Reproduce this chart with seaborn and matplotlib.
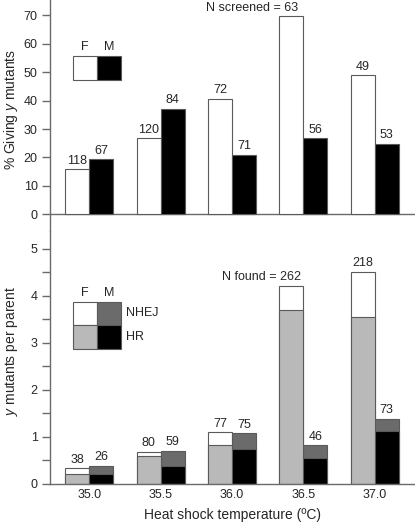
import numpy as np
import pandas as pd
import matplotlib
matplotlib.use("Agg")
import matplotlib.pyplot as plt
import seaborn as sns
from matplotlib.patches import Rectangle

# ---------------- data ----------------
temps = ['35.0', '35.5', '36.0', '36.5', '37.0']
sexes = ['F', 'M']
pct_F = [15.8, 26.7, 40.5, 69.8, 48.9]
pct_M = [19.3, 37.0, 21.0, 26.7, 24.7]
n_screened_F = [118, 120, 72, 63, 49]
n_screened_M = [67, 84, 71, 56, 53]

total_F = [0.32, 0.68, 1.09, 4.21, 4.51]
hr_F = [0.20, 0.59, 0.83, 3.70, 3.55]
total_M = [0.37, 0.70, 1.07, 0.81, 1.38]
hr_M = [0.20, 0.37, 0.73, 0.54, 1.11]
n_found_F = [38, 80, 77, 262, 218]
n_found_M = [26, 59, 75, 46, 73]

# ---------------- style ----------------
sns.set_style("ticks")
FS = 9
LFS = 10
plt.rcParams['font.family'] = ['Liberation Sans', 'DejaVu Sans']
plt.rcParams['font.size'] = FS
plt.rcParams['mathtext.fontset'] = 'custom'
plt.rcParams['mathtext.it'] = 'Liberation Sans:italic'
plt.rcParams['mathtext.rm'] = 'Liberation Sans'

LINE = '#6a6a6a'
EDGE = '#5a5a5a'
LGREY = '#b9b9b9'
DGREY = '#6b6b6b'

fig = plt.figure(figsize=(4.15, 5.22), dpi=100)
W, H = 415, 522
ax1 = fig.add_axes([49.5 / W, 1 - 231 / H, 1 - 49.5 / W, 231 / H])
ax2 = fig.add_axes([49.5 / W, 1 - 483.5 / H, 1 - 49.5 / W, (483.5 - 231) / H])

BW = 0.672  # total width of a pair
half = BW / 4
offs = {'F': -half, 'M': half}
YLAB_X = (20 - 49.5) / (W - 49.5)

# ---------------- top panel ----------------
df_top = pd.DataFrame({
    'temp': temps * 2,
    'sex': ['F'] * 5 + ['M'] * 5,
    'val': pct_F + pct_M,
})
sns.barplot(data=df_top, x='temp', y='val', hue='sex', order=temps,
            hue_order=sexes, palette={'F': 'white', 'M': 'black'},
            width=BW, gap=0, dodge=True, errorbar=None, legend=False,
            edgecolor=EDGE, linewidth=0.8, ax=ax1)

for s, vals, ns in [('F', pct_F, n_screened_F), ('M', pct_M, n_screened_M)]:
    for i, (v, n) in enumerate(zip(vals, ns)):
        x = i + offs[s]
        if s == 'F' and i == 3:
            ax1.annotate('N screened = %d' % n, (x, v), xytext=(5, 1.5),
                         textcoords='offset points', ha='right', va='bottom')
        else:
            ax1.annotate(str(n), (x, v), xytext=(0, 2),
                         textcoords='offset points', ha='center', va='bottom')

ax1.set_xlim(-0.556, 4.565)
ax1.set_ylim(-5.87, 75.4)
ax1.set_yticks([0, 10, 20, 30, 40, 50, 60, 70])
ax1.set_xticks([])
ax1.axhline(0, color=LINE, lw=1.0, zorder=0.5)
for sp in ['top', 'right', 'bottom']:
    ax1.spines[sp].set_visible(False)
ax1.spines['left'].set_color(LINE)
ax1.spines['left'].set_linewidth(1.0)
ax1.tick_params(axis='y', length=6, width=1.0, color=LINE, pad=2.5, labelsize=FS)
ax1.set_xlabel('')
ax1.set_ylabel('% Giving $\\mathit{y}$ mutants', fontsize=LFS)
ax1.yaxis.set_label_coords(YLAB_X, 0.526)

# legend (top)
lx0, lw_, ly0, lh = -0.228, 0.336, 47.2, 8.5
ax1.add_patch(Rectangle((lx0, ly0), lw_, lh, facecolor='white', edgecolor=EDGE, lw=0.8))
ax1.add_patch(Rectangle((lx0 + lw_, ly0), lw_, lh, facecolor='black', edgecolor=EDGE, lw=0.8))
ax1.text(lx0 + lw_ / 2, ly0 + lh + 1.2, 'F', ha='center', va='bottom')
ax1.text(lx0 + 1.5 * lw_, ly0 + lh + 1.2, 'M', ha='center', va='bottom')

# ---------------- bottom panel ----------------
df_tot = pd.DataFrame({
    'temp': temps * 2,
    'sex': ['F'] * 5 + ['M'] * 5,
    'val': total_F + total_M,
})
df_hr = pd.DataFrame({
    'temp': temps * 2,
    'sex': ['F'] * 5 + ['M'] * 5,
    'val': hr_F + hr_M,
})
sns.barplot(data=df_tot, x='temp', y='val', hue='sex', order=temps,
            hue_order=sexes, palette={'F': 'white', 'M': DGREY},
            width=BW, gap=0, dodge=True, errorbar=None, legend=False,
            edgecolor=EDGE, linewidth=0.8, ax=ax2)
sns.barplot(data=df_hr, x='temp', y='val', hue='sex', order=temps,
            hue_order=sexes, palette={'F': LGREY, 'M': 'black'},
            width=BW, gap=0, dodge=True, errorbar=None, legend=False,
            edgecolor=EDGE, linewidth=0.8, ax=ax2)

for s, vals, ns in [('F', total_F, n_found_F), ('M', total_M, n_found_M)]:
    for i, (v, n) in enumerate(zip(vals, ns)):
        x = i + offs[s]
        if s == 'F' and i == 3:
            ax2.annotate('N found = %d' % n, (x, v), xytext=(7, 2),
                         textcoords='offset points', ha='right', va='bottom')
        else:
            ax2.annotate(str(n), (x, v), xytext=(0, 2),
                         textcoords='offset points', ha='center', va='bottom')

ax2.set_xlim(-0.556, 4.565)
ax2.set_ylim(0, 5.38)
ax2.set_yticks([0, 1, 2, 3, 4, 5])
ax2.set_yticks(np.arange(0.5, 5.5, 1.0), minor=True)
for sp in ['top', 'right']:
    ax2.spines[sp].set_visible(False)
for sp in ['left', 'bottom']:
    ax2.spines[sp].set_color(LINE)
    ax2.spines[sp].set_linewidth(1.0)
ax2.tick_params(axis='y', which='both', length=6, width=1.0, color=LINE, pad=2.5, labelsize=FS)
ax2.tick_params(axis='x', length=0, pad=4, labelsize=FS)
ax2.set_xlabel('Heat shock temperature (ºC)', fontsize=LFS, labelpad=5)
ax2.set_ylabel('$\\mathit{y}$ mutants per parent', fontsize=LFS)
ax2.yaxis.set_label_coords(YLAB_X, 0.523)

# legend (bottom)
by0, bh = 2.87, 0.503
ax2.add_patch(Rectangle((lx0, by0 + bh), lw_, bh, facecolor='white', edgecolor=EDGE, lw=0.8))
ax2.add_patch(Rectangle((lx0 + lw_, by0 + bh), lw_, bh, facecolor=DGREY, edgecolor=EDGE, lw=0.8))
ax2.add_patch(Rectangle((lx0, by0), lw_, bh, facecolor=LGREY, edgecolor=EDGE, lw=0.8))
ax2.add_patch(Rectangle((lx0 + lw_, by0), lw_, bh, facecolor='black', edgecolor=EDGE, lw=0.8))
ax2.text(lx0 + lw_ / 2, by0 + 2 * bh + 0.05, 'F', ha='center', va='bottom')
ax2.text(lx0 + 1.5 * lw_, by0 + 2 * bh + 0.05, 'M', ha='center', va='bottom')
ax2.text(lx0 + 2 * lw_ + 0.07, by0 + 1.5 * bh, 'NHEJ', ha='left', va='center')
ax2.text(lx0 + 2 * lw_ + 0.07, by0 + 0.5 * bh, 'HR', ha='left', va='center')

fig.savefig('out.png', dpi=100)
